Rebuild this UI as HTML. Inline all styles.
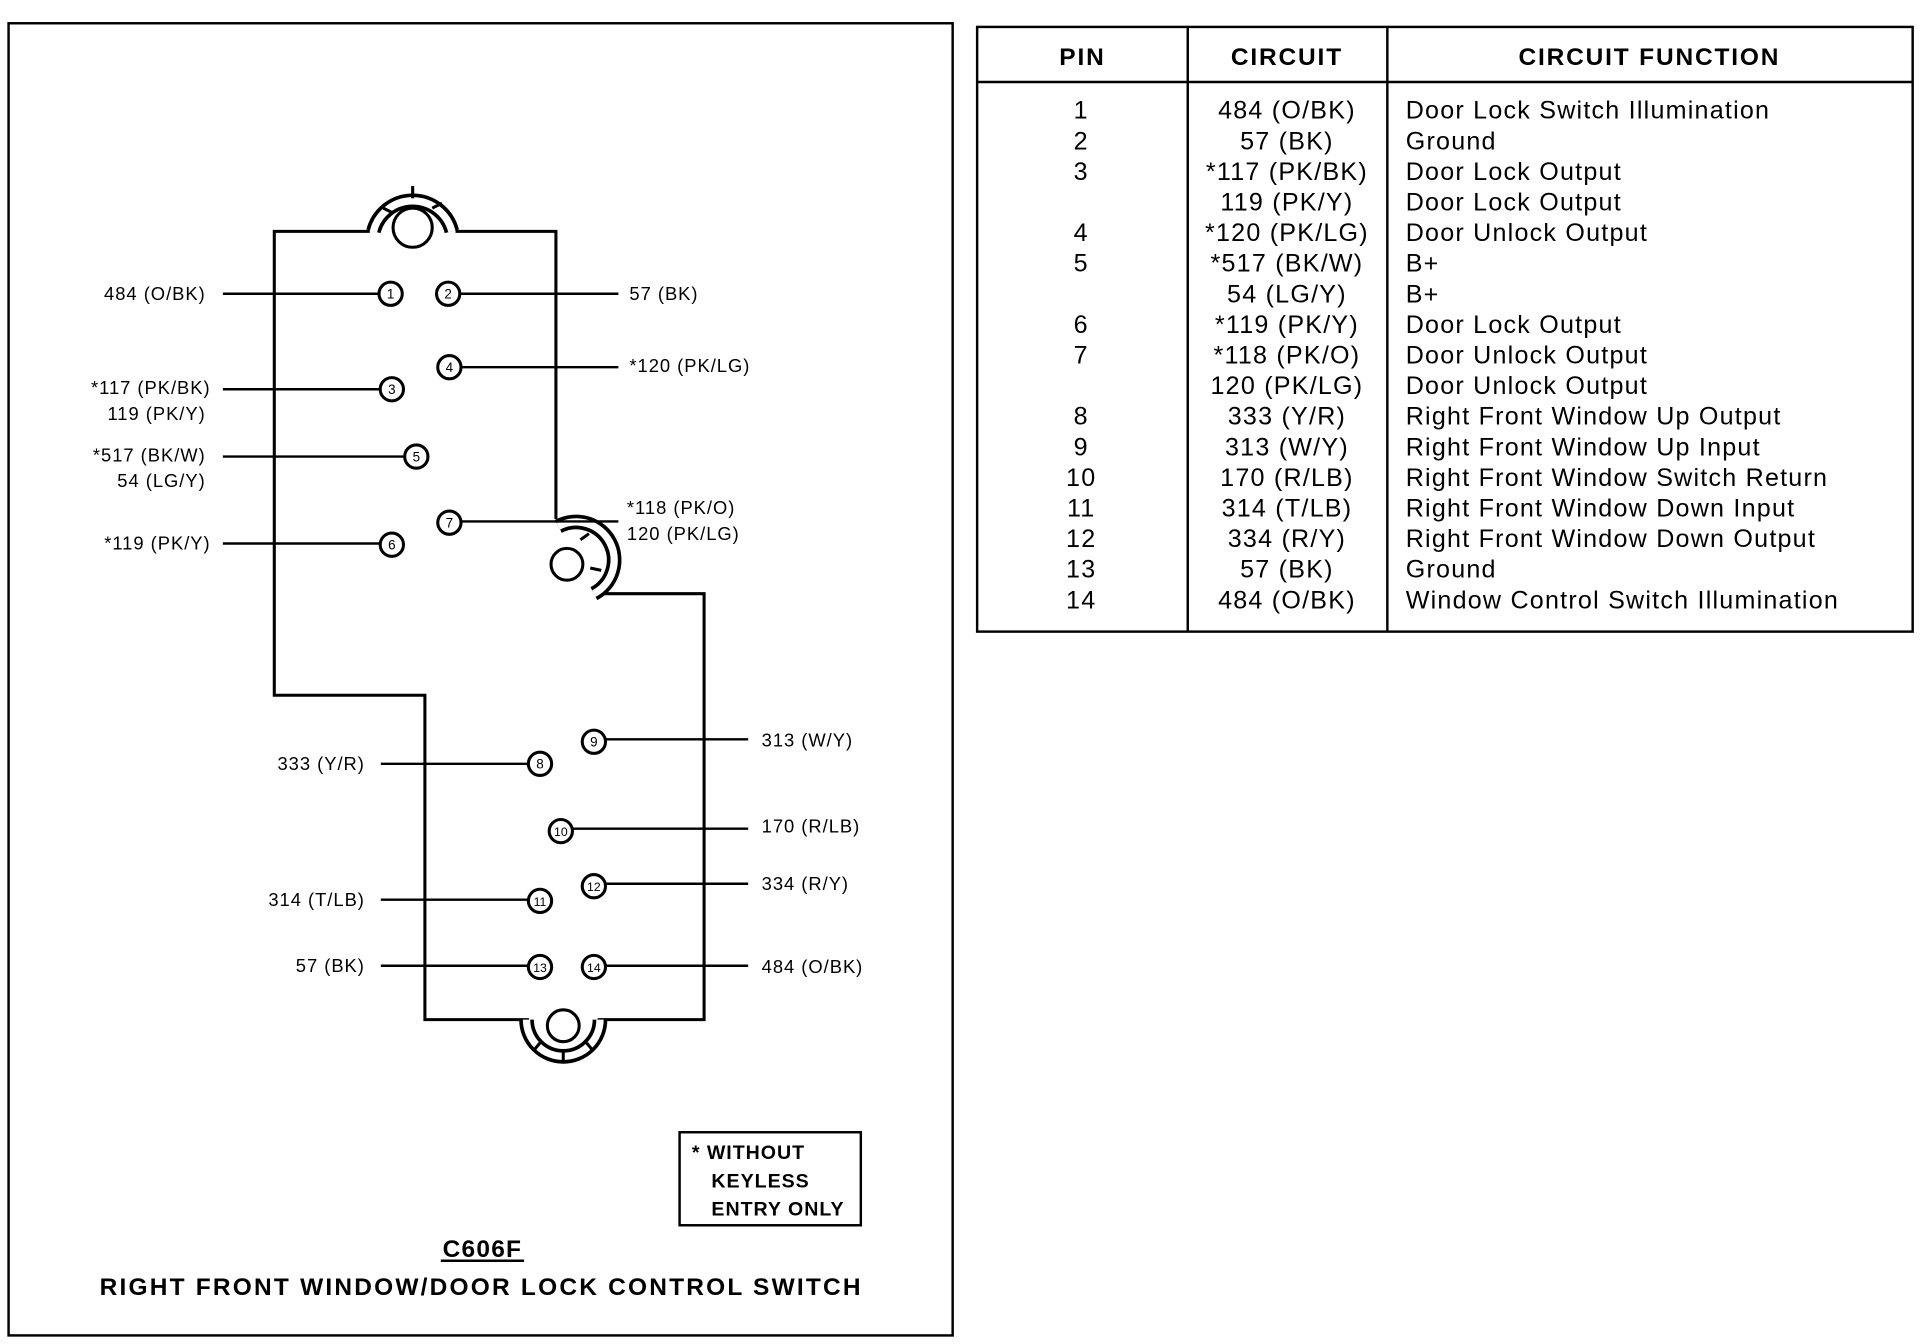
<!DOCTYPE html>
<html><head><meta charset="utf-8"><style>
html,body{margin:0;padding:0;background:#fff}
svg{display:block}
text{font-family:"Liberation Sans",Arial,sans-serif;fill:#000}
</style></head><body>
<svg width="1920" height="1344" viewBox="0 0 1568 1098" preserveAspectRatio="none" xmlns="http://www.w3.org/2000/svg">
<rect x="0" y="0" width="1568" height="1098" fill="#fff"/>
<rect x="7" y="19" width="771" height="1072" fill="none" stroke="#000" stroke-width="2"/>
<!-- table -->
<rect x="798" y="22" width="764" height="494" fill="none" stroke="#000" stroke-width="2"/>
<line x1="798" y1="67" x2="1562" y2="67" stroke="#000" stroke-width="2"/>
<line x1="970" y1="22" x2="970" y2="516" stroke="#000" stroke-width="2"/>
<line x1="1133" y1="22" x2="1133" y2="516" stroke="#000" stroke-width="2"/>
<g font-size="20" font-weight="bold" text-anchor="middle" letter-spacing="1.5">
<text x="884" y="53">PIN</text><text x="1051" y="53">CIRCUIT</text><text x="1347" y="53">CIRCUIT FUNCTION</text>
</g>
<g font-size="20.5" letter-spacing="1">
<g text-anchor="middle">
<text x="883" y="97">1</text><text x="883" y="122">2</text><text x="883" y="147">3</text>
<text x="883" y="197">4</text><text x="883" y="222">5</text><text x="883" y="272">6</text>
<text x="883" y="297">7</text><text x="883" y="347">8</text><text x="883" y="372">9</text>
<text x="883" y="397">10</text><text x="883" y="422">11</text><text x="883" y="447">12</text>
<text x="883" y="472">13</text><text x="883" y="497">14</text>
<text x="1051" y="97">484 (O/BK)</text><text x="1051" y="122">57 (BK)</text>
<text x="1051" y="147">*117 (PK/BK)</text><text x="1051" y="172">119 (PK/Y)</text>
<text x="1051" y="197">*120 (PK/LG)</text><text x="1051" y="222">*517 (BK/W)</text>
<text x="1051" y="247">54 (LG/Y)</text><text x="1051" y="272">*119 (PK/Y)</text>
<text x="1051" y="297">*118 (PK/O)</text><text x="1051" y="322">120 (PK/LG)</text>
<text x="1051" y="347">333 (Y/R)</text><text x="1051" y="372">313 (W/Y)</text>
<text x="1051" y="397">170 (R/LB)</text><text x="1051" y="422">314 (T/LB)</text>
<text x="1051" y="447">334 (R/Y)</text><text x="1051" y="472">57 (BK)</text>
<text x="1051" y="497">484 (O/BK)</text>
</g>
<text x="1148" y="97">Door Lock Switch Illumination</text>
<text x="1148" y="122">Ground</text>
<text x="1148" y="147">Door Lock Output</text>
<text x="1148" y="172">Door Lock Output</text>
<text x="1148" y="197">Door Unlock Output</text>
<text x="1148" y="222">B+</text>
<text x="1148" y="247">B+</text>
<text x="1148" y="272">Door Lock Output</text>
<text x="1148" y="297">Door Unlock Output</text>
<text x="1148" y="322">Door Unlock Output</text>
<text x="1148" y="347">Right Front Window Up Output</text>
<text x="1148" y="372">Right Front Window Up Input</text>
<text x="1148" y="397">Right Front Window Switch Return</text>
<text x="1148" y="422">Right Front Window Down Input</text>
<text x="1148" y="447">Right Front Window Down Output</text>
<text x="1148" y="472">Ground</text>
<text x="1148" y="497">Window Control Switch Illumination</text>
</g>
<!-- connector outline -->
<g fill="none" stroke="#000" stroke-width="2.5">
<polyline points="302,189 224,189 224,568 347,568 347,833 432,833"/>
<polyline points="372,189 454,189 454,424"/>
<polyline points="490,485 575,485 575,833 488,833"/>
</g>
<!-- latches -->
<g fill="none" stroke="#000">
<circle cx="337" cy="186" r="16" stroke-width="2.5"/>
<path d="M305,189 A33,33 0 0 1 369,189" stroke-width="12"/>
<path d="M305,189 A33,33 0 0 1 369,189" stroke="#fff" stroke-width="6"/>
<circle cx="463" cy="461" r="13" stroke-width="2.5"/>
<path d="M456,430 A31,31 0 0 1 485,485" stroke-width="12"/>
<path d="M456,430 A31,31 0 0 1 485,485" stroke="#fff" stroke-width="6"/>
<circle cx="460" cy="838" r="13" stroke-width="2.5"/>
<path d="M430,833 A30,30 0 0 0 490,833" stroke-width="12"/>
<path d="M430,833 A30,30 0 0 0 490,833" stroke="#fff" stroke-width="6"/>
</g>
<g stroke="#000" stroke-width="2.5">
<line x1="313" y1="170" x2="321" y2="174"/><line x1="337" y1="152" x2="337" y2="162"/><line x1="353" y1="170" x2="361" y2="166"/>
<line x1="474" y1="441" x2="481" y2="436"/><line x1="482" y1="464" x2="491" y2="466"/>
<line x1="441" y1="852" x2="436" y2="858"/><line x1="460" y1="858" x2="460" y2="868"/><line x1="479" y1="852" x2="484" y2="858"/>
</g>
<!-- wires -->
<g stroke="#000" stroke-width="2">
<line x1="182" y1="240" x2="310" y2="240"/><line x1="375" y1="240" x2="505" y2="240"/>
<line x1="376" y1="300" x2="505" y2="300"/><line x1="182" y1="318" x2="311" y2="318"/>
<line x1="182" y1="373" x2="331" y2="373"/><line x1="376" y1="426" x2="505" y2="426"/>
<line x1="182" y1="444" x2="311" y2="444"/><line x1="494" y1="604" x2="611" y2="604"/>
<line x1="311" y1="624" x2="432" y2="624"/><line x1="467" y1="677" x2="611" y2="677"/>
<line x1="494" y1="722" x2="611" y2="722"/><line x1="311" y1="735" x2="432" y2="735"/>
<line x1="311" y1="789" x2="432" y2="789"/><line x1="494" y1="789" x2="611" y2="789"/>
</g>
<!-- pins -->
<g fill="#fff" stroke="#000" stroke-width="2.5">
<circle cx="319" cy="240" r="9.5"/><circle cx="366" cy="240" r="9.5"/><circle cx="367" cy="300" r="9.5"/>
<circle cx="320" cy="318" r="9.5"/><circle cx="340" cy="373" r="9.5"/><circle cx="367" cy="427" r="9.5"/>
<circle cx="320" cy="445" r="9.5"/><circle cx="485" cy="606" r="9.5"/><circle cx="441" cy="624" r="9.5"/>
<circle cx="458" cy="679" r="9.5"/><circle cx="485" cy="724" r="9.5"/><circle cx="441" cy="736" r="9.5"/>
<circle cx="441" cy="790" r="9.5"/><circle cx="485" cy="790" r="9.5"/>
</g>
<g font-size="11" text-anchor="middle">
<text x="319" y="244">1</text><text x="366" y="244">2</text><text x="367" y="304">4</text>
<text x="320" y="322">3</text><text x="340" y="377">5</text><text x="367" y="431">7</text>
<text x="320" y="449">6</text><text x="485" y="610">9</text><text x="441" y="628">8</text>
<text x="458" y="683" font-size="10">10</text><text x="485" y="728" font-size="10">12</text><text x="441" y="740" font-size="10">11</text>
<text x="441" y="794" font-size="10">13</text><text x="485" y="794" font-size="10">14</text>
</g>
<!-- wire labels -->
<g font-size="15" letter-spacing="0.8">
<g text-anchor="end">
<text x="168" y="245">484 (O/BK)</text>
<text x="172" y="322">*117 (PK/BK)</text><text x="168" y="343">119 (PK/Y)</text>
<text x="168" y="377">*517 (BK/W)</text><text x="168" y="398">54 (LG/Y)</text>
<text x="172" y="449">*119 (PK/Y)</text>
<text x="298" y="629">333  (Y/R)</text><text x="298" y="740">314  (T/LB)</text>
<text x="298" y="794">57  (BK)</text>
</g>
<text x="514" y="245">57 (BK)</text>
<text x="514" y="304">*120 (PK/LG)</text>
<text x="512" y="420">*118 (PK/O)</text><text x="512" y="441">120 (PK/LG)</text>
<text x="622" y="610">313 (W/Y)</text><text x="622" y="680">170 (R/LB)</text>
<text x="622" y="727">334 (R/Y)</text><text x="622" y="795">484 (O/BK)</text>
</g>
<!-- note -->
<rect x="555" y="925" width="148" height="76" fill="none" stroke="#000" stroke-width="2"/>
<g font-size="16" font-weight="bold" letter-spacing="0.8">
<text x="565" y="947">* WITHOUT</text><text x="581" y="970">KEYLESS</text><text x="581" y="993">ENTRY ONLY</text>
</g>
<text x="394" y="1027" font-size="20" font-weight="bold" text-anchor="middle" letter-spacing="1">C606F</text>
<line x1="360" y1="1030" x2="428" y2="1030" stroke="#000" stroke-width="2"/>
<text x="393" y="1058" font-size="20" font-weight="bold" text-anchor="middle" letter-spacing="1.8">RIGHT FRONT WINDOW/DOOR LOCK CONTROL SWITCH</text>
</svg>
</body></html>
